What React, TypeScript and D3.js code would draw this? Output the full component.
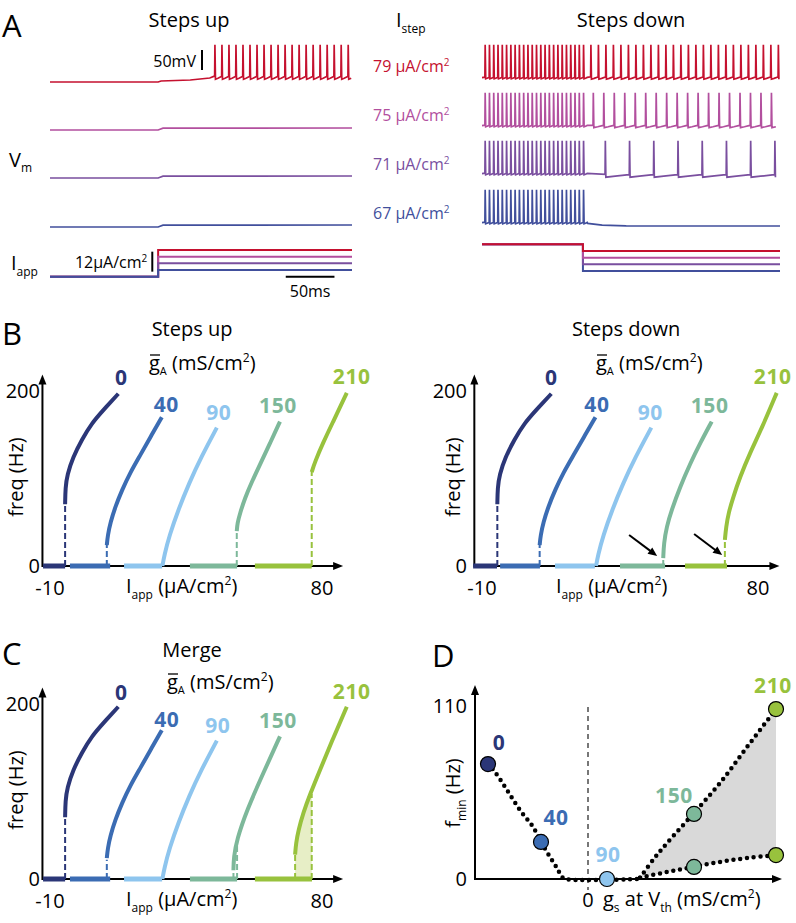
import React from 'react';
import * as d3 from 'd3';

const FONT = "'Open Sans', 'Noto Sans', sans-serif";

// ================= Panel A data =================
const stepCurrents = [79, 75, 71, 67]; // μA/cm²
const traceColors = ['#c5112f', '#b24f9e', '#7a4f9f', '#414f9c'];
const upBaseCurrent = 63;
const downBaseCurrent = 83;
const upStepTime = 111; // ms
const downStepTime = 105; // ms
const traceEnd = 310; // ms
const spikePeak = 28; // mV

type SpikeSeg = { start: number; end: number; isi: number; thr: number; trough: number };
type Seg = { pts?: number[][]; spikes?: SpikeSeg };

const upTraces: Seg[][] = [
  [
    { pts: [[0, -65], [111, -65], [114, -62.5], [144, -60], [164, -55], [168, -51]] },
    { spikes: { start: 169, end: 309, isi: 7.2, thr: -51, trough: -58 } },
  ],
  [{ pts: [[0, -65], [111, -65], [116, -60.5], [310, -60]] }],
  [{ pts: [[0, -65], [111, -65], [116, -60.5], [310, -60]] }],
  [{ pts: [[0, -65], [111, -65], [116, -60.5], [310, -60]] }],
];

const downTraces: Seg[][] = [
  [
    { pts: [[0, -54]] },
    { spikes: { start: 3, end: 106, isi: 4.45, thr: -53, trough: -57 } },
    { spikes: { start: 113, end: 310, isi: 7.8, thr: -52, trough: -58 } },
  ],
  [
    { pts: [[0, -54]] },
    { spikes: { start: 3, end: 106, isi: 4.45, thr: -53, trough: -57 } },
    { spikes: { start: 115.5, end: 310, isi: 10.9, thr: -53, trough: -59 } },
  ],
  [
    { pts: [[0, -54]] },
    { spikes: { start: 3, end: 106, isi: 4.45, thr: -53, trough: -57 } },
    { spikes: { start: 128, end: 310, isi: 25.2, thr: -56, trough: -63 } },
  ],
  [
    { pts: [[0, -54]] },
    { spikes: { start: 3, end: 108, isi: 4.45, thr: -53, trough: -57 } },
    { pts: [[110, -56], [125, -60.5], [150, -62], [310, -62.5]] },
  ],
];

// ================= Panels B & C data =================
const gValues = [0, 40, 90, 150, 210]; // mS/cm²
const gColors = ['#2b3677', '#3b6cb3', '#8ec5ee', '#7db89a', '#98c23d'];

const curve0 = [[-5.0, 71], [-4.9, 90], [-4.3, 105], [-2.4, 125], [0.5, 145], [3.8, 164], [7.6, 179], [12.6, 198]];
const curve40 = [[8.8, 24], [9.1, 35], [10.0, 50], [11.6, 68], [13.8, 87], [16.5, 107], [19.8, 127], [23.2, 148], [27.0, 171]];
const curve90 = [[27.2, 0], [27.8, 12], [29.5, 35], [32.5, 65], [36.0, 95], [40.0, 125], [45.2, 159]];

const upCurves = [
  curve0, curve40, curve90,
  [[51.8, 40], [52.0, 49], [52.9, 61], [54.5, 78], [56.7, 96], [59.5, 117], [62.8, 141], [66.1, 166]],
  [[76.6, 108], [77.7, 120], [80.4, 142], [83.7, 166], [88.2, 199]],
];
const upBars = [[-12.3, -5.0], [-3.4, 9.9], [14.5, 27.1], [36.3, 51.9], [57.8, 76.6]];
const upDashes = [[[-5.0, 71]], [[8.8, 24]], [], [[51.8, 40]], [[76.6, 108]]];

const downCurves = [
  curve0, curve40, curve90,
  [[49.1, 9], [49.3, 26], [50.2, 45], [51.8, 64], [54.6, 91], [57.8, 117], [61.1, 141], [64.9, 166]],
  [[69.2, 30], [69.6, 45], [70.4, 61], [71.9, 79], [74.1, 102], [77.4, 130], [81.2, 158], [86.1, 199]],
];
const downBars = [[-12.9, -5.1], [-4.1, 8.9], [13.8, 26.8], [35.0, 49.7], [56.2, 69.9]];
const downDashes = [[[-5.0, 71]], [[8.8, 24]], [], [[49.1, 9]], [[69.2, 30]]];
const downArrowTips = [[47.1, 11.5], [68.3, 12.6]];

const mergeCurves = [
  curve0, curve40, curve90,
  [[50.7, 10], [50.8, 25], [51.8, 45], [55.1, 79], [60.6, 122], [66.1, 164]],
  [[71.1, 28], [71.4, 41], [72.2, 56], [73.8, 76], [76.0, 97], [79.3, 125], [83.7, 162], [88.2, 198]],
];
const mergeBars = [[-12.3, -5.0], [-3.4, 9.9], [14.5, 27.1], [36.3, 51.9], [57.8, 76.7]];
const mergeDashes = [[[-5.0, 70]], [[8.8, 22]], [], [[50.7, 10], [51.9, 40]], [[71.1, 28], [76.6, 98]]];
const mergeShadeRange = [71.1, 76.6];

// ================= Panel D data =================
const dPointsUp = [[-10.0, 73.5], [-4.7, 23.7], [1.9, 0], [10.6, 41.6], [18.8, 108.7]];
const dPointsDown = [[10.6, 7.7], [18.8, 15.3]];
const dDotLeft = [[-10.0, 73.5], [-9.3, 68.4], [-8.1, 56.9], [-6.8, 44.1], [-5.5, 33.3], [-4.7, 23.7], [-3.8, 14.1], [-3.1, 7.0], [-2.6, 1.3], [-2.3, 0], [5.2, 0]];
const dDotUpper = [[5.2, 0.8], [6.5, 12.2], [7.9, 23.0], [10.5, 41.6], [13.2, 61.4], [15.9, 84.4], [18.8, 108.7]];
const dDotLower = [[5.2, 0.8], [7.9, 4.5], [10.5, 7.7], [13.2, 10.9], [15.9, 13.4], [18.8, 15.3]];

// ================= helpers =================
function buildTrace(segs: Seg[]): [number, number][] {
  const out: [number, number][] = [];
  segs.forEach((s) => {
    if (s.pts) s.pts.forEach((p) => out.push([p[0], p[1]]));
    if (s.spikes) {
      const { start, end, isi, thr, trough } = s.spikes;
      d3.range(start, end, isi).forEach((ts) => {
        out.push(
          [ts, thr],
          [ts + 0.3, spikePeak],
          [ts + 0.85, trough],
          [ts + 0.85 + (isi - 0.85) * 0.4, trough + (thr - trough) * 0.35],
          [ts + isi - 0.3, thr - 0.5]
        );
      });
    }
  });
  return out.filter((p) => p[0] <= traceEnd);
}

function arrowHead(x: number, y: number, angle: number, len = 10, half = 4) {
  const c = Math.cos(angle), s = Math.sin(angle);
  const bx = x - len * c, by = y - len * s;
  const px = -s * half, py = c * half;
  return `M${x},${y}L${bx + px},${by + py}L${bx - px},${by - py}Z`;
}

const traceRows = [82, 130, 178, 227];

function PanelA() {
  const xL = d3.scaleLinear().domain([0, traceEnd]).range([50, 352]);
  const xR = d3.scaleLinear().domain([0, traceEnd]).range([482, 780]);
  const vS = (row: number) => d3.scaleLinear().domain([-65, 30]).range([row, row - 38]);
  const iL = d3.scaleLinear().domain([67, 79]).range([270, 250]);
  const iR = d3.scaleLinear().domain([67, 79]).range([271, 251]);
  const mk = (xs: d3.ScaleLinear<number, number>, ys: d3.ScaleLinear<number, number>) =>
    d3.line<[number, number]>().x((d) => xs(d[0])).y((d) => ys(d[1]));

  const iUp = stepCurrents.map((c) => [[0, upBaseCurrent], [upStepTime, upBaseCurrent], [upStepTime, c], [traceEnd, c]] as [number, number][]);
  const iDown = stepCurrents.map((c) => [[0, downBaseCurrent], [downStepTime, downBaseCurrent], [downStepTime, c], [traceEnd, c]] as [number, number][]);

  const vRed = vS(traceRows[0]);
  return (
    <g fontFamily={FONT}>
      <text x={2} y={37} fontSize={31}>A</text>
      <text x={189} y={27} fontSize={20} textAnchor="middle">Steps up</text>
      <text x={631} y={27} fontSize={20} textAnchor="middle">Steps down</text>
      <text x={396} y={27} fontSize={20}>I<tspan fontSize={12} dy={6}>step</tspan></text>
      <text x={9} y={167} fontSize={20}>V<tspan fontSize={12} dy={5}>m</tspan></text>
      <text x={11} y={270} fontSize={20}>I<tspan fontSize={12} dy={6}>app</tspan></text>

      {stepCurrents.map((c, i) => (
        <text key={'lab' + i} x={373} y={[72, 121, 170, 219][i]} fontSize={16} fill={traceColors[i]}>
          {c} μA/cm<tspan fontSize={10} dy={-6}>2</tspan>
        </text>
      ))}

      {upTraces.map((segs, i) => (
        <path key={'up' + i} d={mk(xL, vS(traceRows[i]))(buildTrace(segs)) || ''} fill="none" stroke={traceColors[i]} strokeWidth={1.7} />
      ))}
      {downTraces.map((segs, i) => (
        <path key={'dn' + i} d={mk(xR, vS(traceRows[i]))(buildTrace(segs)) || ''} fill="none" stroke={traceColors[i]} strokeWidth={1.7} />
      ))}

      {iUp.map((d, i) => (
        <path key={'iu' + i} d={mk(xL, iL)(d) || ''} fill="none" stroke={traceColors[i]} strokeWidth={2} />
      ))}
      {iDown.map((d, i) => i).reverse().map((i) => (
        <path key={'id' + i} d={mk(xR, iR)(iDown[i]) || ''} fill="none" stroke={traceColors[i]} strokeWidth={2} />
      ))}

      {/* scale bars */}
      <line x1={xL(156)} x2={xL(156)} y1={vRed(-35)} y2={vRed(15)} stroke="#000" strokeWidth={2} />
      <text x={xL(156) - 6} y={67} fontSize={16} textAnchor="end">50mV</text>
      <line x1={xL(105)} x2={xL(105)} y1={iL(66)} y2={iL(78)} stroke="#000" strokeWidth={2} />
      <text x={xL(105) - 5} y={268} fontSize={16} textAnchor="end">12μA/cm<tspan fontSize={10} dy={-6}>2</tspan></text>
      <line x1={xL(242)} x2={xL(292)} y1={iL(upBaseCurrent)} y2={iL(upBaseCurrent)} stroke="#000" strokeWidth={2} />
      <text x={xL(267)} y={297} fontSize={16} textAnchor="middle">50ms</text>
    </g>
  );
}

type FIProps = {
  xRange: [number, number];
  y0: number;
  title: string;
  titleY: number;
  gbarX: number;
  gbarY: number;
  freqX: number;
  tickRight: number;
  iappX: number;
  curves: number[][][];
  bars: number[][];
  dashes: number[][][];
  labelDx: number[];
  labelDy: number[];
  shade?: number[];
  arrows?: number[][];
  letter: string;
  letterY: number;
};

function FIPanel(p: FIProps) {
  const x = d3.scaleLinear().domain([-10, 80]).range(p.xRange);
  const y = d3.scaleLinear().domain([0, 200]).range([p.y0, p.y0 - 174]);
  const ax0 = x(-12.5);
  const axEnd = x(87);
  const ayTop = y(220);
  const line = d3.line<number[]>().x((d) => x(d[0])).y((d) => y(d[1])).curve(d3.curveBasis);

  let shadePath = '';
  if (p.shade) {
    const c = p.curves[4];
    const [a, b] = p.shade;
    const inside = c.filter((d) => d[0] >= a && d[0] <= b);
    const k = c.findIndex((d) => d[0] > b);
    const fB = c[k - 1][1] + ((b - c[k - 1][0]) / (c[k][0] - c[k - 1][0])) * (c[k][1] - c[k - 1][1]);
    const poly = [[a, 0], ...inside, [b, fB], [b, 0]];
    shadePath = d3.line<number[]>().x((d) => x(d[0])).y((d) => y(d[1]))(poly) + 'Z';
  }

  return (
    <g fontFamily={FONT}>
      {p.letter && <text x={2} y={p.letterY} fontSize={31}>{p.letter}</text>}
      <text x={x(37)} y={p.titleY} fontSize={20} textAnchor="middle">{p.title}</text>
      <text x={p.gbarX} y={p.gbarY} fontSize={20}>
        g<tspan fontSize={11} dy={5}>A</tspan><tspan dy={-5}> (mS/cm</tspan><tspan fontSize={12} dy={-8}>2</tspan><tspan dy={8}>)</tspan>
      </text>
      <line x1={p.gbarX + 1} x2={p.gbarX + 11} y1={p.gbarY - 15} y2={p.gbarY - 15} stroke="#000" strokeWidth={1.3} />

      {/* axes */}
      <line x1={ax0} x2={axEnd - 8} y1={p.y0} y2={p.y0} stroke="#000" strokeWidth={2} />
      <path d={arrowHead(axEnd, p.y0, 0)} fill="#000" />
      <line x1={ax0} x2={ax0} y1={p.y0 + 1} y2={ayTop + 8} stroke="#000" strokeWidth={2} />
      <path d={arrowHead(ax0, ayTop, -Math.PI / 2)} fill="#000" />

      {shadePath && <path d={shadePath} fill="#e7eec6" />}

      {p.bars.map((b, i) => (
        <line key={'b' + i} x1={x(b[0])} x2={x(b[1])} y1={p.y0} y2={p.y0} stroke={gColors[i]} strokeWidth={5} />
      ))}
      {p.dashes.map((ds, i) =>
        ds.map((d, j) => (
          <line key={'d' + i + '_' + j} x1={x(d[0])} x2={x(d[0])} y1={p.y0} y2={y(d[1])} stroke={gColors[i]} strokeWidth={2} strokeDasharray="6 3" />
        ))
      )}
      {p.curves.map((c, i) => (
        <path key={'c' + i} d={line(c) || ''} fill="none" stroke={gColors[i]} strokeWidth={4} />
      ))}
      {p.curves.map((c, i) => {
        const e = c[c.length - 1];
        return (
          <text key={'l' + i} x={x(e[0]) + p.labelDx[i]} y={y(e[1]) + p.labelDy[i]} fontSize={21} fontWeight="bold" letterSpacing={0.6} fill={gColors[i]} textAnchor="middle">
            {gValues[i]}
          </text>
        );
      })}

      <text x={p.tickRight} y={y(200) + 6} fontSize={20} textAnchor="end">200</text>
      <text x={p.tickRight} y={p.y0 + 7} fontSize={20} textAnchor="end">0</text>
      <text x={x(-10)} y={p.y0 + 29} fontSize={20} textAnchor="middle">-10</text>
      <text x={x(80)} y={p.y0 + 29} fontSize={20} textAnchor="middle">80</text>
      <text x={p.iappX} y={p.y0 + 27} fontSize={20}>
        I<tspan fontSize={12} dy={6}>app</tspan><tspan dy={-6}> (μA/cm</tspan><tspan fontSize={12} dy={-8}>2</tspan><tspan dy={8}>)</tspan>
      </text>
      <text transform={`translate(${p.freqX},${p.y0 - 89}) rotate(-90)`} fontSize={20} textAnchor="middle">freq (Hz)</text>

      {p.arrows &&
        p.arrows.map((a, i) => {
          const tx = x(a[0]), ty = y(a[1]);
          const sx = tx - 28, sy = ty - 21;
          const ang = Math.atan2(ty - sy, tx - sx);
          return (
            <g key={'ar' + i}>
              <line x1={sx} y1={sy} x2={tx - 6 * Math.cos(ang)} y2={ty - 6 * Math.sin(ang)} stroke="#000" strokeWidth={2} />
              <path d={arrowHead(tx, ty, ang, 9, 4)} fill="#000" />
            </g>
          );
        })}
    </g>
  );
}

function PanelD() {
  const x = d3.scaleLinear().domain([-11.3, 19.4]).range([475, 782]);
  const y = d3.scaleLinear().domain([0, 110]).range([879, 707]);
  const line = d3.line<number[]>().x((d) => x(d[0])).y((d) => y(d[1])).curve(d3.curveCatmullRom.alpha(0.5));
  const lin = d3.line<number[]>().x((d) => x(d[0])).y((d) => y(d[1]));
  const shade = [...dDotUpper, ...dDotLower.slice().reverse()];
  const labelOff = [[11, -14], [15, -17], [1, -17], [-20, -11], [-3, -16]];
  const x0 = 475, y0 = 879, tipX = 782, tipY = 685;
  return (
    <g fontFamily={FONT}>
      <text x={432} y={667} fontSize={31}>D</text>
      <path d={lin(shade) + 'Z'} fill="#d9d9d9" />
      <line x1={x(0)} x2={x(0)} y1={y(110)} y2={y0 + 11} stroke="#777" strokeWidth={2} strokeDasharray="5 4" />
      {/* axes */}
      <line x1={x0} x2={tipX - 8} y1={y0} y2={y0} stroke="#000" strokeWidth={2} />
      <path d={arrowHead(tipX, y0, 0)} fill="#000" />
      <line x1={x0} x2={x0} y1={y0 + 1} y2={tipY + 8} stroke="#000" strokeWidth={2} />
      <path d={arrowHead(x0, tipY, -Math.PI / 2)} fill="#000" />
      {[dDotLeft, dDotUpper, dDotLower].map((d, i) => (
        <path key={'dot' + i} d={line(d) || ''} fill="none" stroke="#000" strokeWidth={4.5} strokeLinecap="round" strokeDasharray="0 6.8" />
      ))}

      {dPointsDown.map((d, i) => (
        <circle key={'pd' + i} cx={x(d[0])} cy={y(d[1])} r={7.5} fill={gColors[i + 3]} stroke="#000" strokeWidth={1.2} />
      ))}
      {dPointsUp.map((d, i) => (
        <circle key={'pu' + i} cx={x(d[0])} cy={y(d[1])} r={7.5} fill={gColors[i]} stroke="#000" strokeWidth={1.2} />
      ))}
      {dPointsUp.map((d, i) => (
        <text key={'pl' + i} x={x(d[0]) + labelOff[i][0]} y={y(d[1]) + labelOff[i][1]} fontSize={21} fontWeight="bold" letterSpacing={0.6} fill={gColors[i]} textAnchor="middle">
          {gValues[i]}
        </text>
      ))}

      <text x={467} y={y(110) + 6} fontSize={20} textAnchor="end">110</text>
      <text x={467} y={y0 + 7} fontSize={20} textAnchor="end">0</text>
      <text x={x(0)} y={907} fontSize={20} textAnchor="middle">0</text>
      <text x={603} y={906} fontSize={20}>
        g<tspan fontSize={12} dy={6}>s</tspan><tspan dy={-6}> at V</tspan><tspan fontSize={12} dy={6}>th</tspan><tspan dy={-6}> (mS/cm</tspan><tspan fontSize={12} dy={-8}>2</tspan><tspan dy={8}>)</tspan>
      </text>
      <text transform={`translate(460,${(y(0) + y(110)) / 2}) rotate(-90)`} fontSize={20} textAnchor="middle">
        f<tspan fontSize={12} dy={6}>min</tspan><tspan dy={-6}> (Hz)</tspan>
      </text>
    </g>
  );
}

export default function App() {
  return (
    <svg width={796} height={923} style={{ position: 'absolute', left: 0, top: 0, background: '#fff' }}>
      <rect x={0} y={0} width={796} height={923} fill="#fff" />
      <PanelA />
      <FIPanel
        xRange={[50, 322]} y0={566} title="Steps up" titleY={336} gbarX={149} gbarY={370} freqX={23} tickRight={40} iappX={126}
        curves={upCurves} bars={upBars} dashes={upDashes}
        labelDx={[3, 4.5, 2, -2, 5]} labelDy={[-9, -5, -8, -9, -9]} letter="B" letterY={345}
      />
      <FIPanel
        xRange={[482, 758]} y0={566} title="Steps down" titleY={336} gbarX={596} gbarY={370} freqX={460} tickRight={467} iappX={556}
        curves={downCurves} bars={downBars} dashes={downDashes} arrows={downArrowTips}
        labelDx={[0, 1.5, -1, -2, -4]} labelDy={[-9, -5, -8, -9, -9]} letter="" letterY={0}
      />
      <FIPanel
        xRange={[50, 322]} y0={879} title="Merge" titleY={657} gbarX={167} gbarY={689} freqX={23} tickRight={40} iappX={126}
        curves={mergeCurves} bars={mergeBars} dashes={mergeDashes} shade={mergeShadeRange}
        labelDx={[3, 5, 1, -2, 5]} labelDy={[-7, -3, -8, -8, -8]} letter="C" letterY={665}
      />
      <PanelD />
    </svg>
  );
}
